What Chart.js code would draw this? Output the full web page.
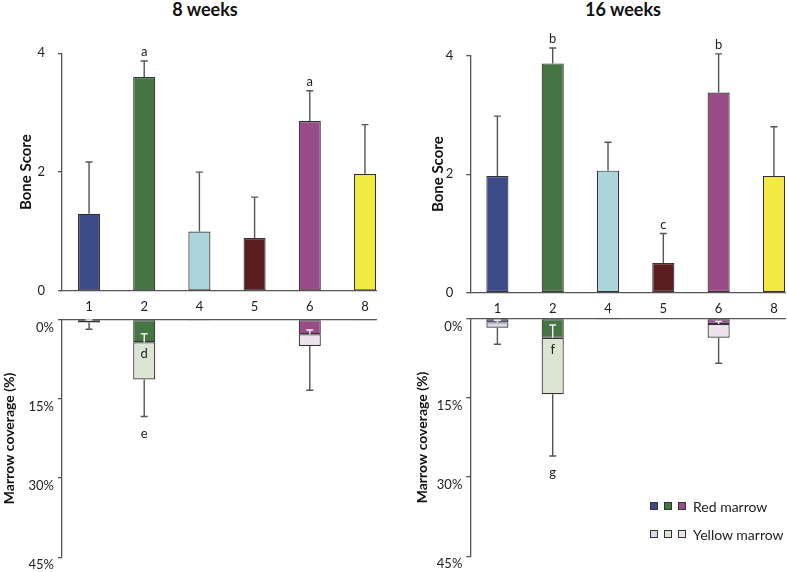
<!DOCTYPE html>
<html>
<head>
<meta charset="utf-8">
<script src="https://cdn.jsdelivr.net/npm/chart.js@4.4.1/dist/chart.umd.min.js"></script>
<style>
    body { margin: 0; background: #fff; font-family: Lato, sans-serif; color: #222; }
    #wrap { position: relative; width: 787px; height: 572px; overflow: hidden; }
    #wrap canvas { position: absolute; }
    .title { position: absolute; top: 0; line-height: 18px; font-size: 18px; font-weight: bold; color: #111; transform: translateX(-50%); white-space: nowrap; }
    .leg { position: absolute; left: 650px; height: 18px; display: flex; align-items: center; font-size: 14px; color: #222; white-space: nowrap; }
    .sw { display: inline-block; width: 8px; height: 8px; box-sizing: border-box; border: 1px solid #333; margin-right: 6px; }
    .leg .txt { margin-left: 1px; }
</style>
</head>
<body>
<div id="wrap">
    <div class="title" style="left:205px">8 weeks</div>
    <div class="title" style="left:623px">16 weeks</div>
    <canvas id="score8" width="393" height="318" style="left:0;top:0"></canvas>
    <canvas id="score16" width="394" height="318" style="left:393px;top:0"></canvas>
    <canvas id="marrow8" width="393" height="272" style="left:0;top:300px"></canvas>
    <canvas id="marrow16" width="394" height="272" style="left:393px;top:300px"></canvas>
    <div class="leg" id="legRed" style="top:497px"></div>
    <div class="leg" id="legYellow" style="top:525px"></div>
</div>
<script>
// Groups on the x axis
const groups = ['1', '2', '4', '5', '6', '8']
const scoreTicks = [0, 2, 4]
const marrowTicks = [0, 15, 30, 45]

// Bone score, 8 weeks
const score8 = [1.30, 3.60, 1.00, 0.89, 2.86, 1.97]
const scoreErr8 = [0.87, 0.27, 1.00, 0.69, 0.51, 0.83]
const scoreLetters8 = ['', 'a', '', '', 'a', '']
// Bone score, 16 weeks
const score16 = [1.97, 3.87, 2.06, 0.50, 3.38, 1.97]
const scoreErr16 = [1.01, 0.26, 0.48, 0.50, 0.65, 0.83]
const scoreLetters16 = ['', 'b', '', 'c', 'b', '']

// Marrow coverage (%), 8 weeks
const red8 = [0.3, 4.3, 0.1, 0, 2.8, 0.1]
const redErr8 = [0.2, 1.6, 0, 0, 0.8, 0]
const redLetters8 = ['', 'd', '', '', '', '']
const yellow8 = [0.25, 7.05, 0, 0, 2.2, 0]
const yellowErr8 = [1.3, 7.0, 0, 0, 8.4, 0]
const yellowLetters8 = ['', 'e', '', '', '', '']
// Marrow coverage (%), 16 weeks
const red16 = [0.7, 3.6, 0.1, 0, 1.0, 0]
const redErr16 = [0.4, 2.4, 0, 0, 0.5, 0]
const redLetters16 = ['', 'f', '', '', '', '']
const yellow16 = [1.0, 10.7, 0.05, 0, 2.6, 0]
const yellowErr16 = [3.15, 11.7, 0, 0, 4.85, 0]
const yellowLetters16 = ['', 'g', '', '', '', '']

const barColors = ['#3c4a8a', '#457543', '#abd5db', '#5a1e21', '#984c88', '#f2e942']
const paleColors = ['#d9dae9', '#dbe5d3', '#e4e4e4', '#e4e4e4', '#efe2ec', '#e4e4e4']
const legendIdx = [0, 1, 4]

const AXIS = '#555'
const FONT = 'Lato, sans-serif'
Chart.defaults.font.family = FONT

// Error bars and significance letters, drawn from the bar elements
const errorBars = {
    id: 'errorBars',
    afterDatasetsDraw(chart) {
        const ctx = chart.ctx
        const yScale = chart.scales.y
        chart.data.datasets.forEach((ds, di) => {
            const meta = chart.getDatasetMeta(di)
            meta.data.forEach((bar, i) => {
                // stacked end value for this bar
                let end = 0
                for (let k = 0; k <= di; k++) end += chart.data.datasets[k].data[i].y
                const err = ds.errors ? ds.errors[i] : 0
                if (err) {
                    const to = yScale.getPixelForValue(end + ds.errorDir * err)
                    ctx.save()
                    ctx.strokeStyle = ds.errorColor
                    ctx.lineWidth = 1.4
                    ctx.beginPath()
                    ctx.moveTo(bar.x, bar.y)
                    ctx.lineTo(bar.x, to)
                    ctx.moveTo(bar.x - 3.5, to)
                    ctx.lineTo(bar.x + 3.5, to)
                    ctx.stroke()
                    ctx.restore()
                }
                const letter = ds.letters ? ds.letters[i] : ''
                if (letter) {
                    const v = ds.letterAt === 'err' ? end + ds.errorDir * err : end
                    const py = yScale.getPixelForValue(v) + ds.letterShift
                    ctx.save()
                    ctx.fillStyle = '#222'
                    ctx.font = '13px ' + FONT
                    ctx.textAlign = 'center'
                    ctx.textBaseline = 'middle'
                    ctx.fillText(letter, bar.x, py)
                    ctx.restore()
                }
            })
        })
    }
}

const points = arr => arr.map((v, i) => ({ x: i, y: v }))

function xScale(upper, height) {
    return {
        type: 'linear',
        position: upper ? 'bottom' : 'top',
        min: -0.49,
        max: 5.2,
        offset: false,
        stacked: true,
        afterBuildTicks: s => { s.ticks = groups.map((g, i) => ({ value: i })) },
        afterFit: s => { s.height = height },
        ticks: {
            display: upper,
            callback: v => groups[v],
            padding: 8,
            color: '#222',
            font: { size: 13 },
            maxRotation: 0,
            autoSkip: false
        },
        grid: { drawOnChartArea: false, drawTicks: false },
        border: { display: true, color: AXIS, width: 1.3 }
    }
}

function makeChart(id, datasets, cfg) {
    return new Chart(document.getElementById(id).getContext('2d'), {
        type: 'bar',
        data: { datasets: datasets },
        options: {
            responsive: false,
            animation: false,
            events: [],
            layout: { padding: cfg.padding },
            plugins: { legend: { display: false }, tooltip: { enabled: false } },
            scales: {
                x: xScale(cfg.upper, cfg.xHeight),
                y: {
                    min: cfg.min,
                    max: cfg.max,
                    reverse: !cfg.upper,
                    stacked: true,
                    afterBuildTicks: s => { s.ticks = cfg.ticks.map(v => ({ value: v })) },
                    afterFit: s => { s.width = cfg.yWidth },
                    ticks: {
                        padding: cfg.upper ? 13 : 4,
                        labelOffset: cfg.upper ? 0 : 8,
                        color: '#222',
                        font: { size: 13 },
                        callback: v => cfg.upper ? v : v + '%'
                    },
                    grid: { drawOnChartArea: false, tickLength: 4, color: AXIS, lineWidth: 1.3 },
                    border: { display: true, color: AXIS, width: 1.3 },
                    title: {
                        display: true,
                        text: cfg.yTitle,
                        color: '#111',
                        font: { size: cfg.upper ? 15 : 14, weight: 'bold' },
                        padding: { top: cfg.titlePad, bottom: 0 }
                    }
                }
            }
        },
        plugins: [errorBars]
    })
}

function scoreSet(values, errs, letters) {
    return {
        data: points(values),
        backgroundColor: barColors,
        borderColor: '#333',
        borderWidth: 1.2,
        borderSkipped: false,
        barPercentage: 0.4,
        categoryPercentage: 1,
        errors: errs,
        errorDir: 1,
        errorColor: AXIS,
        letters: letters,
        letterAt: 'err',
        letterShift: -9
    }
}

function marrowSets(red, redErr, redLetters, yellow, yellowErr, yellowLetters) {
    return [{
        label: 'Red marrow',
        data: points(red),
        backgroundColor: barColors,
        borderColor: '#333',
        borderWidth: 1.2,
        borderSkipped: false,
        barPercentage: 0.4,
        categoryPercentage: 1,
        errors: redErr,
        errorDir: -1,
        errorColor: '#f2f2f2',
        letters: redLetters,
        letterAt: 'bar',
        letterShift: 12
    }, {
        label: 'Yellow marrow',
        data: points(yellow),
        backgroundColor: paleColors,
        borderColor: '#333',
        borderWidth: 1.2,
        borderSkipped: false,
        barPercentage: 0.4,
        categoryPercentage: 1,
        errors: yellowErr,
        errorDir: 1,
        errorColor: AXIS,
        letters: yellowLetters,
        letterAt: 'err',
        letterShift: 17
    }]
}

makeChart('score8', [scoreSet(score8, scoreErr8, scoreLetters8)], {
    upper: true, min: 0, max: 4, ticks: scoreTicks, yTitle: 'Bone Score',
    padding: { top: 53.3, right: 17, bottom: 0, left: 0 }, xHeight: 27, yWidth: 62, titlePad: 17
})
makeChart('score16', [scoreSet(score16, scoreErr16, scoreLetters16)], {
    upper: true, min: 0, max: 4, ticks: scoreTicks, yTitle: 'Bone Score',
    padding: { top: 55.7, right: 2, bottom: 0, left: 0 }, xHeight: 25.3, yWidth: 77.3, titlePad: 36
})
makeChart('marrow8', marrowSets(red8, redErr8, redLetters8, yellow8, yellowErr8, yellowLetters8), {
    upper: false, min: 0, max: 45, ticks: marrowTicks, yTitle: 'Marrow coverage (%)',
    padding: { top: 19.5, right: 17, bottom: 14.7, left: 0 }, xHeight: 0, yWidth: 62, titlePad: 0.6
})
makeChart('marrow16', marrowSets(red16, redErr16, redLetters16, yellow16, yellowErr16, yellowLetters16), {
    upper: false, min: 0, max: 45, ticks: marrowTicks, yTitle: 'Marrow coverage (%)',
    padding: { top: 18.7, right: 2, bottom: 15.7, left: 0 }, xHeight: 0, yWidth: 77.3, titlePad: 20.6
})

// Legend: three swatches per marrow type
function fillLegend(id, colors, text) {
    const el = document.getElementById(id)
    legendIdx.forEach(i => {
        const sw = document.createElement('span')
        sw.className = 'sw'
        sw.style.background = colors[i]
        el.appendChild(sw)
    })
    const t = document.createElement('span')
    t.className = 'txt'
    t.textContent = text
    el.appendChild(t)
}
fillLegend('legRed', barColors, 'Red marrow')
fillLegend('legYellow', paleColors, 'Yellow marrow')
</script>
</body>
</html>
